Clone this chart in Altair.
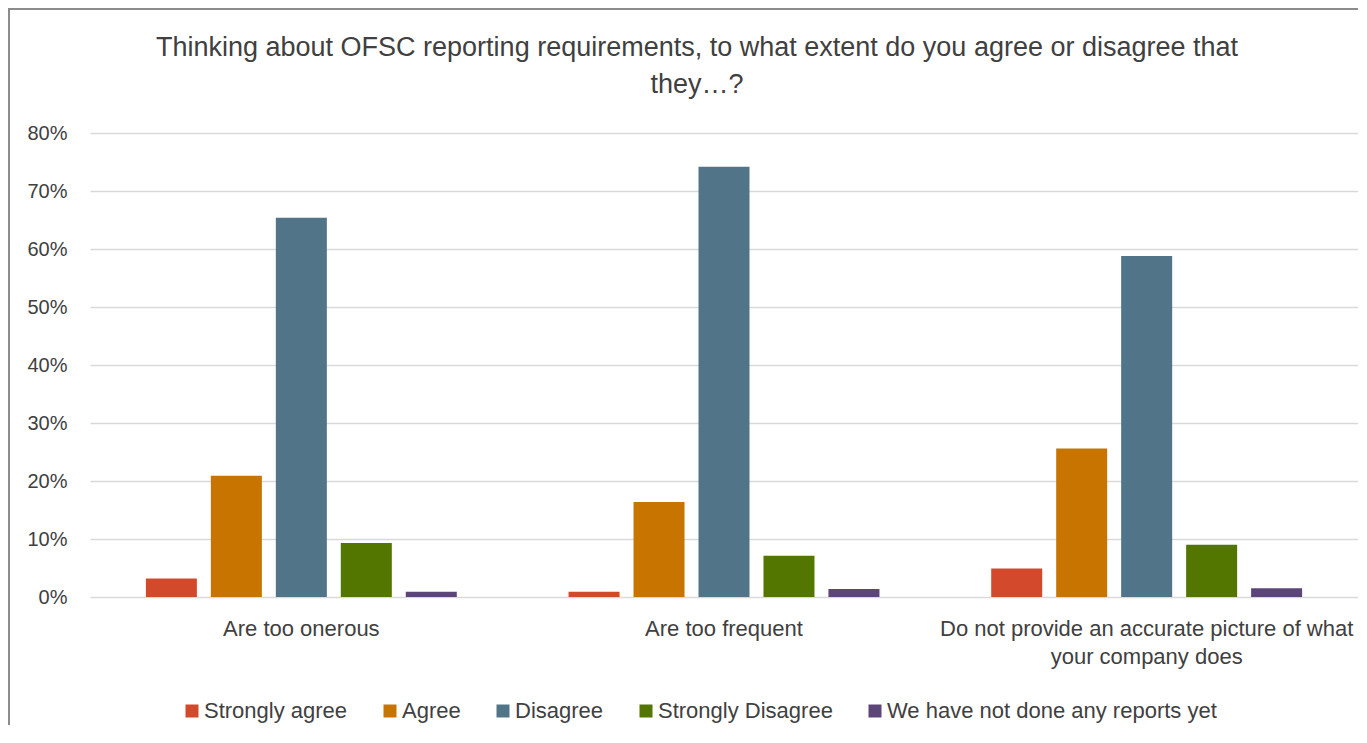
import altair as alt
import pandas as pd

categories = [
    "Are too onerous",
    "Are too frequent",
    "Do not provide an accurate picture of what your company does",
]
responses = [
    "Strongly agree",
    "Agree",
    "Disagree",
    "Strongly Disagree",
    "We have not done any reports yet",
]
colors = ["#D24A2B", "#C87400", "#517489", "#527600", "#5C4579"]

strongly_agree = [3.2, 0.9, 4.9]
agree = [20.9, 16.4, 25.6]
disagree = [65.4, 74.2, 58.8]
strongly_disagree = [9.3, 7.1, 9.0]
not_done = [0.9, 1.4, 1.5]
y_ticks = [0, 0.1, 0.2, 0.3, 0.4, 0.5, 0.6, 0.7, 0.8]

series = [strongly_agree, agree, disagree, strongly_disagree, not_done]
rows = []
for resp, vals in zip(responses, series):
    for cat, v in zip(categories, vals):
        rows.append({"category": cat, "response": resp, "value": v / 100})
df = pd.DataFrame(rows)

FONT = "Liberation Sans"
TXT = "#404040"

label_expr = (
    "datum.label == 'Do not provide an accurate picture of what your company does' ? "
    "['Do not provide an accurate picture of what', 'your company does'] : datum.label"
)

bars = alt.Chart(df).mark_bar().encode(
    x=alt.X(
        "category:N",
        sort=categories,
        scale=alt.Scale(paddingInner=0, paddingOuter=0),
        axis=alt.Axis(
            title=None,
            labelAngle=0,
            ticks=False,
            tickSize=0,
            domain=False,
            labelFont=FONT,
            labelFontSize=22,
            labelColor=TXT,
            labelPadding=21,
            labelLineHeight=28,
            labelLimit=600,
            labelExpr=label_expr,
        ),
    ),
    xOffset=alt.XOffset(
        "response:N",
        sort=responses,
        scale=alt.Scale(paddingInner=0.215, paddingOuter=0.86),
    ),
    y=alt.Y(
        "value:Q",
        scale=alt.Scale(domain=[0, 0.8]),
        axis=alt.Axis(
            title=None,
            values=y_ticks,
            format=".0%",
            domain=False,
            ticks=False,
            tickSize=0,
            grid=True,
            gridColor="#d9d9d9",
            gridWidth=1.3,
            labelFont=FONT,
            labelFontSize=20,
            labelColor=TXT,
            labelPadding=23,
        ),
    ),
    color=alt.Color(
        "response:N",
        sort=responses,
        scale=alt.Scale(domain=responses, range=colors),
        legend=alt.Legend(
            title=None,
            orient="none",
            direction="horizontal",
            legendX=91,
            legendY=567,
            symbolType="square",
            symbolSize=169,
            symbolStrokeWidth=0,
            symbolOpacity=1,
            labelFont=FONT,
            labelFontSize=22,
            labelColor=TXT,
            labelOffset=1,
            columnPadding=31,
            labelLimit=400,
        ),
    ),
)

border = alt.Chart(pd.DataFrame({"b": [0]})).mark_rect(
    fill="transparent", stroke="#8c8c8c", strokeWidth=2
).encode(
    x=alt.value(-81),
    x2=alt.value(1400),
    y=alt.value(-124),
    y2=alt.value(900),
)

chart = alt.layer(border, bars).properties(
    width=1268,
    height=464,
    autosize=alt.AutoSizeParams(type="none"),
    padding={"left": 82, "top": 125, "right": 0, "bottom": 128},
    title=alt.Title(
        ["Thinking about OFSC reporting requirements, to what extent do you agree or disagree that", "they…?"],
        font=FONT,
        fontSize=27,
        fontWeight="normal",
        color=TXT,
        lineHeight=37,
        anchor="middle",
        frame="group",
        dx=-27,
        offset=-91,
    ),
).configure_view(stroke=None)

chart.save("out.html", embed_options={"renderer": "svg", "actions": False})
